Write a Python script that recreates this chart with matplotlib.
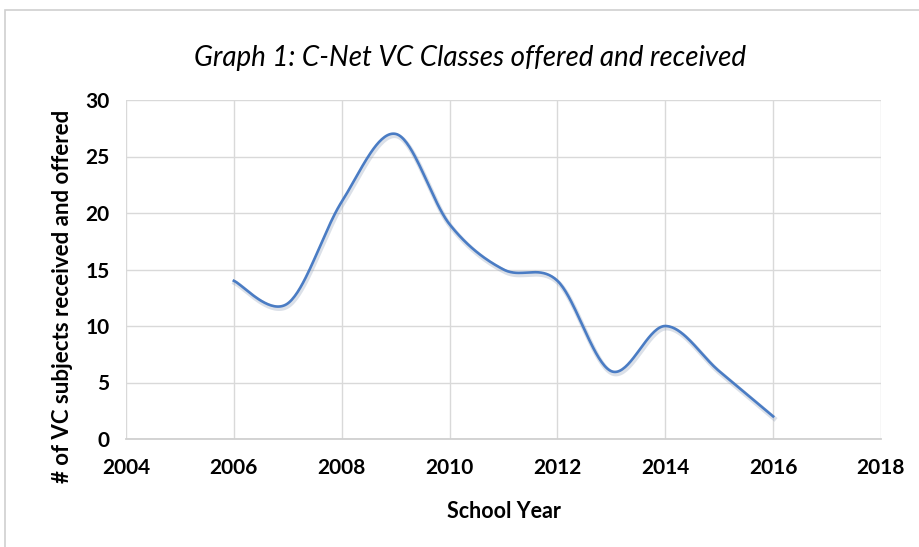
import matplotlib.pyplot as plt
import numpy as np
from matplotlib.patches import Rectangle
from matplotlib.transforms import ScaledTranslation

years = [2006, 2007, 2008, 2009, 2010, 2011, 2012, 2013, 2014, 2015, 2016]
subjects = [14, 12, 21, 27, 19, 15, 14, 6, 10, 6, 2]

x_ticks = [2004, 2006, 2008, 2010, 2012, 2014, 2016, 2018]
y_ticks = [0, 5, 10, 15, 20, 25, 30]

FONT = ["Lato", "DejaVu Sans"]


def curvaSuave(xs, ys, pasos=40):
    # curva tipo Excel: bezier con puntos de control a 1/6
    p = np.column_stack([xs, ys]).astype(float)
    p = np.vstack([p[0], p, p[-1]])
    puntos = []
    t = np.linspace(0, 1, pasos)[:, None]
    for i in range(1, len(p) - 2):
        a = p[i]
        b = p[i] + (p[i + 1] - p[i - 1]) / 6
        c = p[i + 1] - (p[i + 2] - p[i]) / 6
        d = p[i + 1]
        seg = (1 - t) ** 3 * a + 3 * (1 - t) ** 2 * t * b + 3 * (1 - t) * t ** 2 * c + t ** 3 * d
        puntos.append(seg if i == 1 else seg[1:])
    res = np.vstack(puntos)
    return res[:, 0], res[:, 1]


fig = plt.figure(figsize=(9.2, 5.47), dpi=100)
fig.patches.append(Rectangle((5 / 920, -0.1), 2, 1.1 - 10 / 547, transform=fig.transFigure,
                             fill=False, edgecolor="#d0d0d0", linewidth=1.2))

ax = fig.add_axes([126 / 920, 1 - 439 / 547, 755 / 920, 339 / 547])
sx, sy = curvaSuave(years, subjects)
sombra = ax.transData + ScaledTranslation(1 / 100, -2 / 100, fig.dpi_scale_trans)
ax.plot(sx, sy, color="#8a9bb5", linewidth=3.5, alpha=0.3, zorder=2, transform=sombra)
ax.plot(sx, sy, color="#4a7cc4", linewidth=1.9, zorder=3)

ax.set_xlim(2004, 2018)
ax.set_ylim(0, 30)
ax.set_xticks(x_ticks)
ax.set_yticks(y_ticks)
ax.grid(True, color="#d9d9d9", linewidth=1)
for s in ["top", "right", "left"]:
    ax.spines[s].set_visible(False)
ax.spines["bottom"].set_color("#d0d0d0")
ax.spines["bottom"].set_linewidth(1.3)
ax.tick_params(axis="x", length=0, pad=14)
ax.tick_params(axis="y", length=0, pad=12)
for lab in ax.get_xticklabels() + ax.get_yticklabels():
    lab.set_family(FONT)
    lab.set_fontweight("bold")
    lab.set_fontsize(15)

ax.set_xlabel("School Year", family=FONT, fontweight="bold", fontsize=15.5, labelpad=16)
ax.set_ylabel("# of VC subjects received and offered", family=FONT, fontweight="bold", fontsize=16, labelpad=10)
ax.yaxis.set_label_coords(-0.07, 0.42)

fig.text(470 / 920, 1 - 58 / 547, "Graph 1: C-Net VC Classes offered and received", family=FONT,
         style="italic", fontsize=20, ha="center", va="center")

fig.savefig("out.png", dpi=100)
